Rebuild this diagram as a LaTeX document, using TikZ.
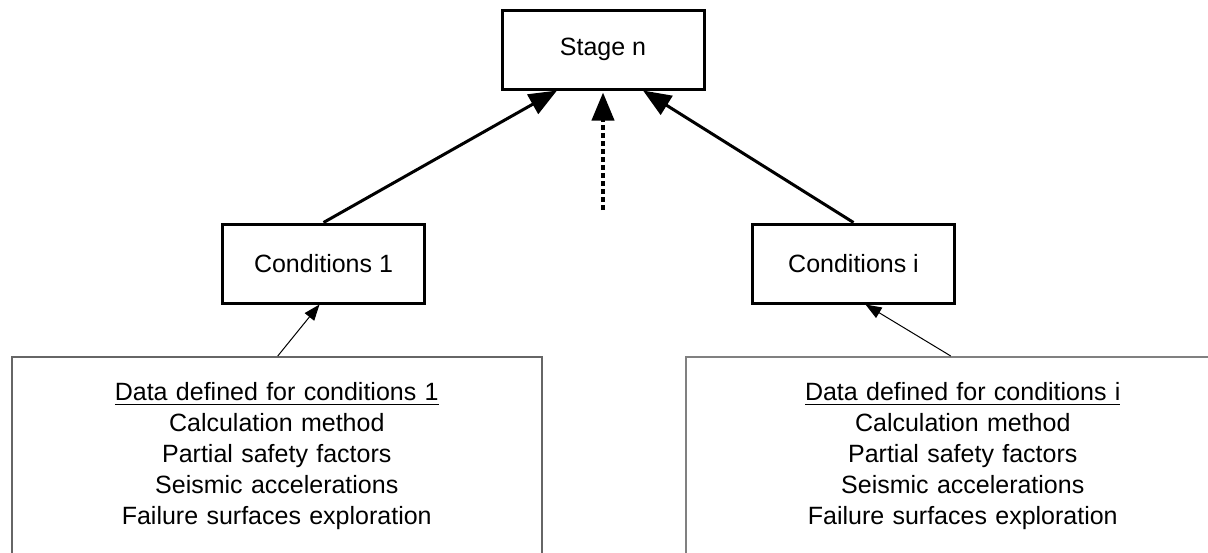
\documentclass[tikz,border=0pt]{standalone}
\usepackage{fontspec}
\setmainfont{Liberation Sans}
\usetikzlibrary{arrows.meta}

\begin{document}
\begin{tikzpicture}[x=0.5pt, y=-0.5pt,
    every node/.style={font=\fontsize{12.5}{15.5}\selectfont},
    stagebox/.style={draw, line width=1.5pt, minimum width=101pt, minimum height=39.5pt, inner sep=0pt},
    databox/.style={draw=black!60, line width=0.75pt, anchor=north west, align=center, inner xsep=0pt, inner ysep=13pt},
    bigarrow/.style={line width=1.5pt, -{Triangle[length=14pt, width=11pt]}},
    thinarrow/.style={line width=0.5pt, -{Triangle[length=8pt, width=6pt]}}]
    \useasboundingbox (0,0) rectangle (1208,552);

    % stage and its conditions
    \node[stagebox] (stage) at (603, 49.5) {Stage n};
    \node[stagebox] (cond1) at (323.5, 263.5) {Conditions 1};
    \node[stagebox] (condi) at (853.5, 263.5) {Conditions i};

    % data boxes, cut off by the page bottom
    \node[databox, text width=265pt] (data1) at (11, 356) {\underline{Data defined for conditions 1}\\Calculation method\\Partial safety factors\\Seismic accelerations\\Failure surfaces exploration};
    \node[databox, draw=black!50, text width=277pt] (datai) at (685, 356) {\underline{Data defined for conditions i}\\Calculation method\\Partial safety factors\\Seismic accelerations\\Failure surfaces exploration};

    \draw[bigarrow] (cond1.north) -- ([xshift=-23pt]stage.south);
    \draw[bigarrow] (condi.north) -- ([xshift=20pt]stage.south);

    % more conditions in between
    \coordinate (more) at (603, 210);
    \draw[line width=2pt, dash pattern=on 2.5pt off 1.5pt, -{Triangle[length=14pt, width=11pt]}] (more) -- ([yshift=-1pt]stage.south);

    \draw[thinarrow] ([xshift=0.5pt]data1.north) -- ([xshift=-2pt]cond1.south);
    \draw[thinarrow] ([xshift=-6pt]datai.north) -- ([xshift=6pt]condi.south);
\end{tikzpicture}
\end{document}
